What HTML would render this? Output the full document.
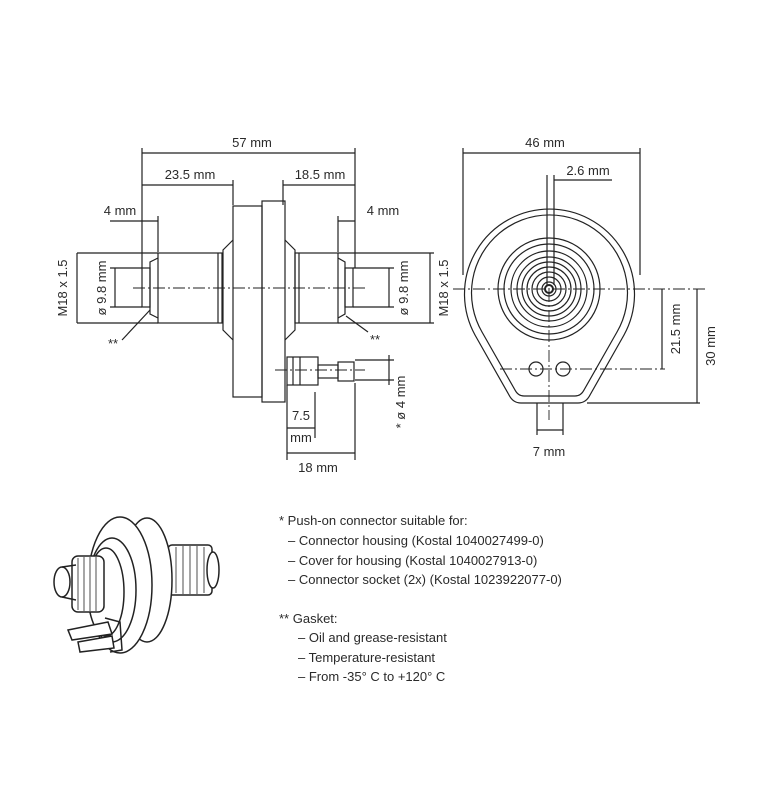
<!DOCTYPE html>
<html><head><meta charset="utf-8"><style>
html,body{margin:0;padding:0;background:#fff}
svg{display:block}
text{font-family:"Liberation Sans",sans-serif;font-size:13px;fill:#2a2a2a}
</style></head><body>
<svg width="770" height="800" viewBox="0 0 770 800" xmlns="http://www.w3.org/2000/svg">
<g stroke="#222" stroke-width="1.2" fill="none">
<line x1="142" y1="153" x2="355" y2="153"/>
<line x1="142" y1="148" x2="142" y2="268"/>
<line x1="355" y1="148" x2="355" y2="268"/>
<line x1="142" y1="185" x2="233" y2="185"/>
<line x1="233" y1="180" x2="233" y2="205"/>
<line x1="283" y1="185" x2="355" y2="185"/>
<line x1="283" y1="180" x2="283" y2="205"/>
<line x1="110" y1="221" x2="158" y2="221"/>
<line x1="158" y1="216" x2="158" y2="252"/>
<line x1="338" y1="221" x2="355" y2="221"/>
<line x1="338" y1="216" x2="338" y2="252"/>
<rect x="233" y="206" width="29" height="191"/>
<rect x="262" y="201" width="23" height="201"/>
<path d="M233,240 L223,250 L223,330 L233,340"/>
<path d="M285,240 L295,250 L295,330 L285,340"/>
<rect x="158" y="253" width="64" height="70"/>
<rect x="295" y="253" width="43" height="70"/>
<line x1="218" y1="253" x2="218" y2="323"/>
<line x1="299" y1="253" x2="299" y2="323"/>
<path d="M158,258 L150,262 L150,314 L158,318"/>
<path d="M338,258 L345,262 L345,314 L338,318"/>
<rect x="142" y="268" width="8" height="39"/>
<rect x="345" y="268" width="8" height="39"/>
<line x1="133" y1="288" x2="365" y2="288" stroke-dasharray="12,3,2,3" stroke-width="0.9"/>
<line x1="77" y1="253" x2="158" y2="253"/>
<line x1="77" y1="323" x2="158" y2="323"/>
<line x1="77" y1="253" x2="77" y2="323"/>
<line x1="110" y1="268" x2="142" y2="268"/>
<line x1="110" y1="307" x2="142" y2="307"/>
<line x1="115" y1="268" x2="115" y2="307"/>
<line x1="338" y1="253" x2="434" y2="253"/>
<line x1="338" y1="323" x2="434" y2="323"/>
<line x1="430" y1="253" x2="430" y2="323"/>
<line x1="353" y1="268" x2="394" y2="268"/>
<line x1="353" y1="307" x2="394" y2="307"/>
<line x1="389" y1="268" x2="389" y2="307"/>
<line x1="122" y1="340" x2="150" y2="310"/>
<line x1="346" y1="316" x2="368" y2="332"/>
<rect x="287" y="357" width="31" height="28"/>
<line x1="293" y1="357" x2="293" y2="385"/>
<line x1="300" y1="357" x2="300" y2="385"/>
<rect x="318" y="365" width="20" height="13"/>
<rect x="338" y="362" width="16" height="19"/>
<line x1="275" y1="370" x2="365" y2="370" stroke-dasharray="12,3,2,3" stroke-width="0.9"/>
<line x1="355" y1="360" x2="394" y2="360"/>
<line x1="355" y1="380" x2="394" y2="380"/>
<line x1="389" y1="355" x2="389" y2="385"/>
<line x1="287" y1="385" x2="287" y2="460"/>
<line x1="315" y1="392" x2="315" y2="438"/>
<line x1="287" y1="428" x2="315" y2="428"/>
<line x1="355" y1="383" x2="355" y2="460"/>
<line x1="287" y1="453" x2="355" y2="453"/>
<line x1="463" y1="153" x2="640" y2="153"/>
<line x1="463" y1="148" x2="463" y2="275"/>
<line x1="640" y1="148" x2="640" y2="275"/>
<path d="M475,335 A85,85 0 1 1 624,335 L590,395 Q586,403 578,403 L521,403 Q513,403 509,395 Z"/>
<path d="M482,332 A78,78 0 1 1 617,332 L584,390 Q581,396 575,396 L524,396 Q518,396 515,390 Z"/>
<circle cx="549" cy="289" r="51"/>
<circle cx="549" cy="289" r="45"/>
<circle cx="549" cy="289" r="38"/>
<circle cx="549" cy="289" r="32"/>
<circle cx="549" cy="289" r="27"/>
<circle cx="549" cy="289" r="22"/>
<circle cx="549" cy="289" r="17"/>
<circle cx="549" cy="289" r="12"/>
<circle cx="549" cy="289" r="7"/>
<circle cx="549" cy="289" r="4" stroke-width="2"/>
<line x1="547" y1="175" x2="547" y2="285"/>
<line x1="554" y1="175" x2="554" y2="285"/>
<line x1="554" y1="180" x2="612" y2="180"/>
<line x1="453" y1="289" x2="705" y2="289" stroke-dasharray="12,3,2,3" stroke-width="0.9"/>
<line x1="549" y1="290" x2="549" y2="420" stroke-dasharray="12,3,2,3" stroke-width="0.9"/>
<circle cx="536" cy="369" r="7"/>
<circle cx="563" cy="369" r="7"/>
<line x1="500" y1="369" x2="665" y2="369" stroke-dasharray="12,3,2,3" stroke-width="0.9"/>
<line x1="662" y1="289" x2="662" y2="369"/>
<line x1="587" y1="403" x2="700" y2="403"/>
<line x1="697" y1="289" x2="697" y2="403"/>
<line x1="537" y1="403" x2="537" y2="435"/>
<line x1="563" y1="403" x2="563" y2="435"/>
<line x1="537" y1="430" x2="563" y2="430"/>
<!-- ISOMETRIC -->
<g stroke-width="1.5" fill="#fff">
<rect x="168" y="545" width="44" height="50" rx="4"/>
<ellipse cx="213" cy="570" rx="6" ry="18"/>
<ellipse cx="147" cy="580" rx="25" ry="62"/>
<ellipse cx="120" cy="585" rx="32" ry="68"/>
<ellipse cx="112" cy="590" rx="24" ry="52"/>
<ellipse cx="106" cy="592" rx="18" ry="44"/>
<rect x="72" y="556" width="32" height="56" rx="6"/>
<ellipse cx="62" cy="582" rx="8" ry="15"/>
<path d="M62,567 L76,565 M62,597 L76,600" fill="none"/>
<path d="M68,630 L108,622 L112,634 L72,640 Z"/>
<path d="M78,642 L112,636 L114,648 L80,652 Z"/>
<path d="M105,618 L120,622 L122,650 L110,652" fill="none"/>
</g>
<g stroke-width="0.8">
<line x1="78" y1="558" x2="78" y2="610"/><line x1="84" y1="557" x2="84" y2="611"/><line x1="90" y1="557" x2="90" y2="611"/>
<line x1="96" y1="557" x2="96" y2="611"/>
<line x1="176" y1="547" x2="176" y2="593"/><line x1="183" y1="546" x2="183" y2="594"/><line x1="190" y1="546" x2="190" y2="594"/>
<line x1="197" y1="546" x2="197" y2="594"/><line x1="204" y1="547" x2="204" y2="593"/>
</g>
</g>
<text x="252" y="147" text-anchor="middle">57 mm</text>
<text x="190" y="179" text-anchor="middle">23.5 mm</text>
<text x="320" y="179" text-anchor="middle">18.5 mm</text>
<text x="120" y="215" text-anchor="middle">4 mm</text>
<text x="383" y="215" text-anchor="middle">4 mm</text>
<text transform="translate(67,288) rotate(-90)" text-anchor="middle">M18 x 1.5</text>
<text transform="translate(106,288) rotate(-90)" text-anchor="middle">ø 9.8 mm</text>
<text transform="translate(408,288) rotate(-90)" text-anchor="middle">ø 9.8 mm</text>
<text transform="translate(448,288) rotate(-90)" text-anchor="middle">M18 x 1.5</text>
<text x="108" y="348">**</text>
<text x="370" y="344">**</text>
<text transform="translate(405,402) rotate(-90)" text-anchor="middle">* ø 4 mm</text>
<text x="301" y="420" text-anchor="middle">7.5</text>
<text x="301" y="442" text-anchor="middle">mm</text>
<text x="318" y="472" text-anchor="middle">18 mm</text>
<text x="545" y="147" text-anchor="middle">46 mm</text>
<text x="588" y="175" text-anchor="middle">2.6 mm</text>
<text transform="translate(680,329) rotate(-90)" text-anchor="middle">21.5 mm</text>
<text transform="translate(715,346) rotate(-90)" text-anchor="middle">30 mm</text>
<text x="549" y="456" text-anchor="middle">7 mm</text>
<text x="279" y="525">* Push-on connector suitable for:</text>
<text x="288" y="545">– Connector housing (Kostal 1040027499-0)</text>
<text x="288" y="565">– Cover for housing (Kostal 1040027913-0)</text>
<text x="288" y="584">– Connector socket (2x) (Kostal 1023922077-0)</text>
<text x="279" y="623">** Gasket:</text>
<text x="298" y="642">– Oil and grease-resistant</text>
<text x="298" y="662">– Temperature-resistant</text>
<text x="298" y="681">– From -35° C to +120° C</text>
</svg>
</body></html>
